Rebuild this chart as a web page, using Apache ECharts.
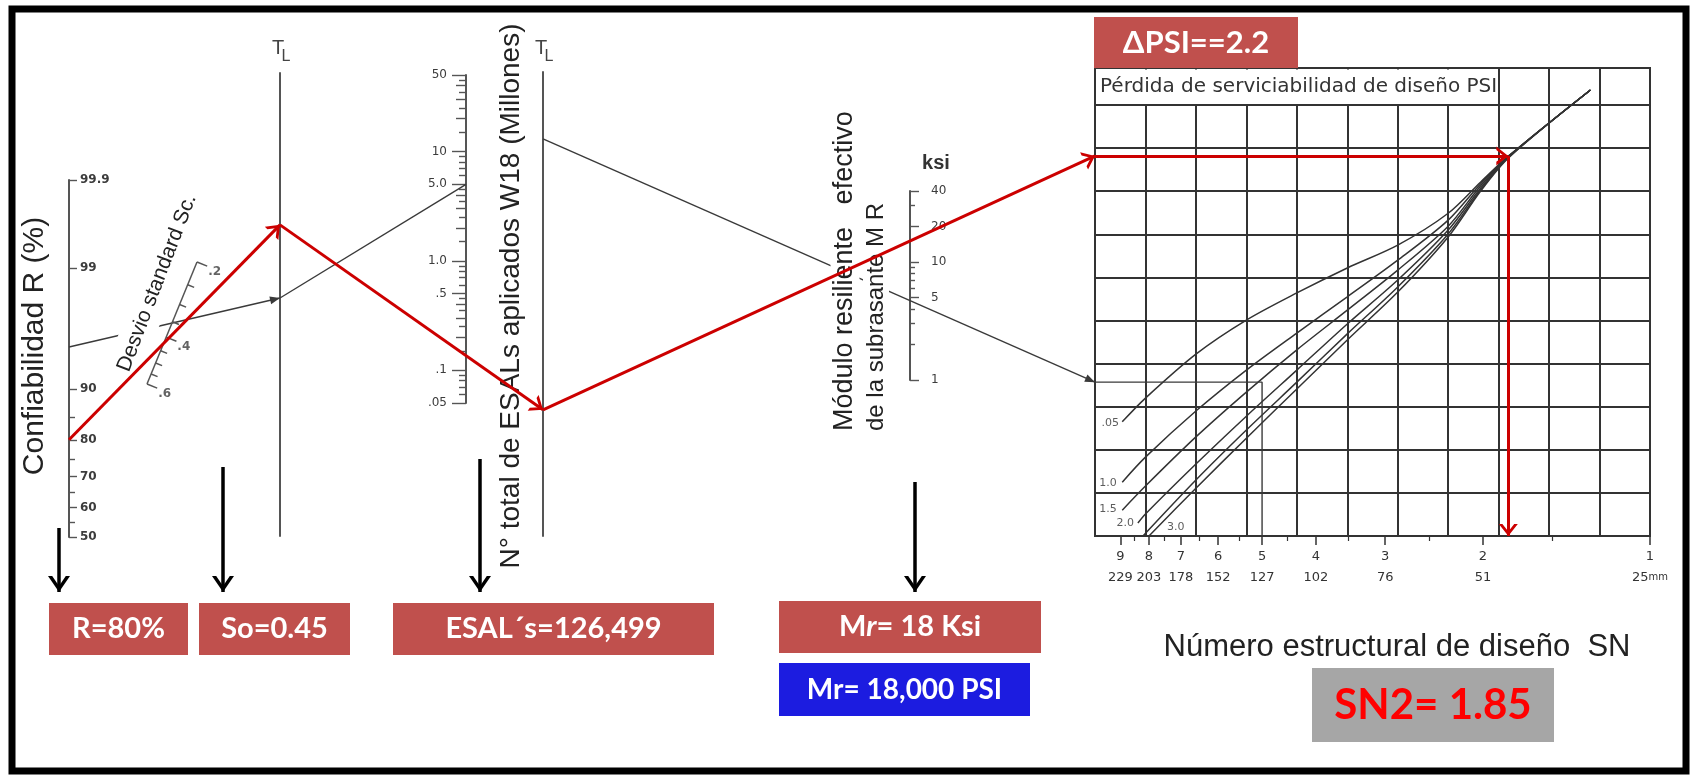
<!DOCTYPE html>
<html>
<head>
<meta charset="utf-8">
<script src="https://cdn.jsdelivr.net/npm/echarts@6/dist/echarts.min.js"></script>
<style>
html,body{margin:0;padding:0;background:#ffffff;}
#chart{width:1692px;height:778px;}
</style>
</head>
<body>
<div id="chart"></div>
<script>
const R_LABELS = [50, 60, 70, 80, 90, 99, 99.9];
const R_MINOR = [55, 65, 75, 85];
const SC_TICKS = [0.2, 0.25, 0.3, 0.35, 0.4, 0.45, 0.5, 0.55, 0.6];
const SC_LABELS = [0.2, 0.4, 0.6];
const SC_LABEL_TEXT = ['.2', '.4', '.6'];
const ESAL_LABELS = [0.05, 0.1, 0.5, 1, 5, 10, 50];
const ESAL_LABEL_TEXT = ['.05', '.1', '.5', '1.0', '5.0', '10', '50'];
const ESAL_MID = [0.2, 0.3, 0.4, 2, 3, 4, 20, 30, 40];
const ESAL_MINOR = [0.06, 0.07, 0.08, 0.09, 0.15, 0.25, 0.35, 0.45, 0.6, 0.7, 0.8, 0.9,
                    1.5, 2.5, 3.5, 4.5, 6, 7, 8, 9, 15, 25, 35, 45];
const KSI_LABELS = [1, 5, 10, 20, 40];
const KSI_MINOR = [2, 3, 4, 6, 7, 8, 9, 30];
const SN_TICKS = [1, 2, 3, 4, 5, 6, 7, 8, 9];
const SN_HALF = [1.5, 2.5, 3.5, 4.5, 5.5, 6.5, 7.5, 8.5];
const MM_LABELS = ['25', '51', '76', '102', '127', '152', '178', '203', '229'];

// Serviceability-loss curves, points as [grid column, grid row]
const PSI_05 = [[0.54,2.65],[1,3.2],[2,4.22],[3,5.01],[4,5.64],[5,6.22],[6,6.75],[7,7.49],[7.64,8.21],[8.2,8.82],[9.82,10.35]];
const PSI_10 = [[0.54,1.25],[1,1.83],[2,2.9],[3,3.85],[4,4.71],[5,5.55],[6,6.4],[7,7.33],[7.64,8.17],[8.2,8.82],[9.82,10.35]];
const PSI_15 = [[0.54,0.6],[1,1.16],[2,2.3],[3,3.34],[4,4.32],[5,5.24],[6,6.17],[7,7.19],[7.64,8.12],[8.2,8.81],[9.82,10.35]];
const PSI_20 = [[0.85,0.3],[1,0.51],[2,1.67],[3,2.78],[4,3.85],[5,4.92],[6,5.94],[7,7.1],[7.64,8.07],[8.2,8.8],[9.82,10.35]];
const PSI_25 = [[0.95,0],[2,1.3],[3,2.46],[4,3.57],[5,4.69],[6,5.78],[7,7.01],[7.64,8.03],[8.2,8.79],[9.82,10.35]];
const PSI_30 = [[1.07,0],[2,1.11],[3,2.27],[4,3.41],[5,4.55],[6,5.66],[7,6.94],[7.64,8.0],[8.2,8.78],[9.82,10.35]];
const PSI_NAMES = ['0.5', '1.0', '1.5', '2.0', '2.5', '3.0'];
const PSI_CURVE_LABELS = ['.05', '1.0', '1.5', '2.0', '3.0'];
const PSI_CURVE_LABEL_POS = [[0.3, 2.62], [0.26, 1.23], [0.26, 0.62], [0.6, 0.3], [1.6, 0.2]];
const PSI_COLS = 11;
const PSI_ROW_MAX = 10.86;

// Design inputs (boxes) and the two traced paths
const DESIGN = {R: 80, So: 0.45, W18: 126499, MR: 18, dPSI: 2.2, SN: 1.85};
const RED_PATH = {R: 80, tl1: 0.672, tl2: 0.272, row: 8.82, sn: 1.8};
const EXAMPLE_PATH = {R: 95, tl1: 0.514, w18: 5.0, tl2: 0.856, row: 3.57, sn: 5};

// ================= LAYOUT =================
const LAY = {
  R:    {x: 69,  top: 180, bottom: 537},
  TL1:  {x: 280, top: 73,  bottom: 536},
  ESAL: {x: 466, top: 75,  bottom: 403},
  TL2:  {x: 543, top: 72,  bottom: 536},
  KSI:  {x: 910, top: 191, bottom: 380},
  SC:   {a: [197, 262], b: [147, 384], c: 0.465},
  PSI:  {left: 1095, top: 68, width: 555, height: 468},
  DOWN: [[59, 528], [223, 467], [480, 459], [915, 482]],
  DOWN_TIP: 592
};

// ================= helpers =================
const log10 = Math.log10;
function normInv(p) {
  const a=[-3.969683028665376e+01,2.209460984245205e+02,-2.759285104469687e+02,1.383577518672690e+02,-3.066479806614716e+01,2.506628277459239e+00];
  const b=[-5.447609879822406e+01,1.615858368580409e+02,-1.556989798598866e+02,6.680131188771972e+01,-1.328068155288572e+01];
  const c=[-7.784894002430293e-03,-3.223964580411365e-01,-2.400758277161838e+00,-2.549732539343734e+00,4.374664141464968e+00,2.938163982698783e+00];
  const d=[7.784695709041462e-03,3.224671290700398e-01,2.445134137142996e+00,3.754408661907416e+00];
  const pl=0.02425, ph=1-pl; let q, r;
  if (p < pl) { q=Math.sqrt(-2*Math.log(p)); return (((((c[0]*q+c[1])*q+c[2])*q+c[3])*q+c[4])*q+c[5])/((((d[0]*q+d[1])*q+d[2])*q+d[3])*q+1); }
  if (p <= ph) { q=p-0.5; r=q*q; return (((((a[0]*r+a[1])*r+a[2])*r+a[3])*r+a[4])*r+a[5])*q/(((((b[0]*r+b[1])*r+b[2])*r+b[3])*r+b[4])*r+1); }
  q=Math.sqrt(-2*Math.log(1-p)); return -(((((c[0]*q+c[1])*q+c[2])*q+c[3])*q+c[4])*q+c[5])/((((d[0]*q+d[1])*q+d[2])*q+d[3])*q+1);
}
const zOf = R => normInv(R / 100);
function nearestIdx(arr, v) { let bi = 0, bd = Infinity; for (let i = 0; i < arr.length; i++) { const dd = Math.abs(arr[i] - v); if (dd < bd) { bd = dd; bi = i; } } return bi; }
function chevron(w, L, a) {
  const h = w / 2, b = L * a / h;
  return 'path://M-20,-20L-19.99,-20L-20,-19.99Z M20,20L19.99,20L20,19.99Z M' + (-h) + ',' + L + 'L0,0L' + h + ',' + L +
         'L' + (h - a) + ',' + L + 'L0,' + b + 'L' + (-(h - a)) + ',' + L + 'Z';
}
const RED_HEAD = chevron(19, 12, 3.6);
const BLACK_HEAD = chevron(22, 16, 4.2);
const SMALL_HEAD = 'path://M-20,-20L-19.99,-20L-20,-19.99Z M20,20L19.99,20L20,19.99Z M-4,10L0,0L4,10Z';

const RED = '#cc0000';
const INK = '#3a3a3a';

function segs(name, pairs, color, width, head, z, xi, yi) {
  return {
    type: 'lines', name: name, coordinateSystem: 'cartesian2d',
    xAxisIndex: xi || 0, yAxisIndex: yi || 0, polyline: false, silent: true, z: z,
    symbol: ['none', head || 'none'], symbolSize: 40,
    lineStyle: {color: color, width: width, opacity: 1, curveness: 0},
    data: pairs.map(c => ({coords: c}))
  };
}

const R_Z = R_LABELS.map(zOf);
const ESAL_L = ESAL_LABELS.map(log10);
const KSI_L = KSI_LABELS.map(log10);
const SN_L = SN_TICKS.map(log10);

const SCALE_LABEL = {fontFamily: 'DejaVu Sans, sans-serif', fontSize: 12, color: '#3c3c3c'};
const SCALE_LINE = {color: '#555', width: 2};
const TICK = {color: '#555', width: 1.4};
const NOAX = {axisTick: {show: false}, axisLabel: {show: false}, splitLine: {show: false}};

// ================= grids & axes =================
const grids = [
  {left: 0, top: 0, width: 1692, height: 778},
  {left: LAY.R.x, top: LAY.R.top, width: 1, height: LAY.R.bottom - LAY.R.top},
  {left: LAY.TL1.x, top: LAY.TL1.top, width: 1, height: LAY.TL1.bottom - LAY.TL1.top},
  {left: LAY.ESAL.x, top: LAY.ESAL.top, width: 1, height: LAY.ESAL.bottom - LAY.ESAL.top},
  {left: LAY.TL2.x, top: LAY.TL2.top, width: 1, height: LAY.TL2.bottom - LAY.TL2.top},
  {left: LAY.KSI.x, top: LAY.KSI.top, width: 1, height: LAY.KSI.bottom - LAY.KSI.top},
  {left: LAY.PSI.left, top: LAY.PSI.top, width: LAY.PSI.width, height: LAY.PSI.height,
   show: true, borderColor: '#333', borderWidth: 2, backgroundColor: 'transparent'}
];

const xAxes = [
  {gridIndex: 0, type: 'value', min: 0, max: 1692, show: false},
  {gridIndex: 1, type: 'value', min: 0, max: 1, show: false},
  {gridIndex: 2, type: 'value', min: 0, max: 1, show: false},
  {gridIndex: 3, type: 'value', min: 0, max: 1, show: false},
  {gridIndex: 4, type: 'value', min: 0, max: 1, show: false},
  {gridIndex: 5, type: 'value', min: 0, max: 1, show: false},
  // 6: structural number (log10 space, reversed)
  {gridIndex: 6, type: 'value', min: 0, max: 1, inverse: true, position: 'bottom',
   axisLine: {show: false, onZero: false},
   axisTick: {show: true, length: 9, customValues: SN_L, lineStyle: {color: '#333', width: 1.5}},
   axisLabel: {show: true, margin: 14, customValues: SN_L,
     formatter: v => String(SN_TICKS[nearestIdx(SN_L, v)]),
     fontFamily: 'DejaVu Sans, sans-serif', fontSize: 13, color: '#333'},
   splitLine: {show: false}},
  // 7: mm equivalents
  {gridIndex: 6, type: 'value', min: 0, max: 1, inverse: true, position: 'bottom',
   axisLine: {show: false, onZero: false}, axisTick: {show: false},
   axisLabel: {show: true, margin: 35, customValues: SN_L,
     formatter: v => { const i = nearestIdx(SN_L, v); return i === 0 ? '{n|' + MM_LABELS[0] + '}{u|mm}' : '{n|' + MM_LABELS[i] + '}'; },
     rich: {n: {fontFamily: 'DejaVu Sans, sans-serif', fontSize: 13, color: '#333'},
            u: {fontFamily: 'DejaVu Sans, sans-serif', fontSize: 10, color: '#333'}}},
   splitLine: {show: false}},
  // 8: half ticks
  {gridIndex: 6, type: 'value', min: 0, max: 1, inverse: true, position: 'bottom',
   axisLine: {show: false, onZero: false},
   axisTick: {show: true, length: 5, customValues: SN_HALF.map(log10), lineStyle: {color: '#333', width: 1.2}},
   axisLabel: {show: false}, splitLine: {show: false}},
  // 9: grid columns
  {gridIndex: 6, type: 'value', min: 0, max: PSI_COLS, interval: 1, position: 'bottom',
   axisLine: {show: false, onZero: false}, axisTick: {show: false}, axisLabel: {show: false},
   splitLine: {show: true, lineStyle: {color: '#333', width: 2}}}
];

const yAxes = [
  {gridIndex: 0, type: 'value', min: 0, max: 778, inverse: true, show: false},
  // 1,2: reliability R (normal-probability scale)
  {gridIndex: 1, type: 'value', min: 0, max: zOf(99.9), position: 'left',
   axisLine: {show: true, onZero: false, lineStyle: SCALE_LINE},
   axisTick: {show: true, inside: true, length: 8, customValues: R_Z, lineStyle: TICK},
   axisLabel: Object.assign({show: true, inside: true, margin: 11, customValues: R_Z, fontWeight: 'bold',
     formatter: v => String(R_LABELS[nearestIdx(R_Z, v)])}, SCALE_LABEL),
   splitLine: {show: false}},
  {gridIndex: 1, type: 'value', min: 0, max: zOf(99.9), position: 'left',
   axisLine: {show: false, onZero: false},
   axisTick: {show: true, inside: true, length: 6, customValues: R_MINOR.map(zOf), lineStyle: TICK},
   axisLabel: {show: false}, splitLine: {show: false}},
  // 3: turning line 1
  Object.assign({gridIndex: 2, type: 'value', min: 0, max: 1, position: 'left',
   axisLine: {show: true, onZero: false, lineStyle: SCALE_LINE}}, NOAX),
  // 4,5,6: ESAL (log10 space)
  {gridIndex: 3, type: 'value', min: log10(0.05), max: log10(50), position: 'left',
   axisLine: {show: true, onZero: false, lineStyle: SCALE_LINE},
   axisTick: {show: true, length: 14, customValues: ESAL_L, lineStyle: TICK},
   axisLabel: Object.assign({show: true, margin: 19, customValues: ESAL_L,
     formatter: v => ESAL_LABEL_TEXT[nearestIdx(ESAL_L, v)]}, SCALE_LABEL),
   splitLine: {show: false}},
  {gridIndex: 3, type: 'value', min: log10(0.05), max: log10(50), position: 'left',
   axisLine: {show: false, onZero: false},
   axisTick: {show: true, length: 10, customValues: ESAL_MID.map(log10), lineStyle: TICK},
   axisLabel: {show: false}, splitLine: {show: false}},
  {gridIndex: 3, type: 'value', min: log10(0.05), max: log10(50), position: 'left',
   axisLine: {show: false, onZero: false},
   axisTick: {show: true, length: 7, customValues: ESAL_MINOR.map(log10), lineStyle: TICK},
   axisLabel: {show: false}, splitLine: {show: false}},
  // 7: turning line 2
  Object.assign({gridIndex: 4, type: 'value', min: 0, max: 1, position: 'left',
   axisLine: {show: true, onZero: false, lineStyle: SCALE_LINE}}, NOAX),
  // 8,9: resilient modulus ksi (log10 space)
  {gridIndex: 5, type: 'value', min: 0, max: log10(40), position: 'left',
   axisLine: {show: true, onZero: false, lineStyle: SCALE_LINE},
   axisTick: {show: true, inside: true, length: 9, customValues: KSI_L, lineStyle: TICK},
   axisLabel: Object.assign({show: true, inside: true, margin: 21, customValues: KSI_L,
     formatter: v => String(KSI_LABELS[nearestIdx(KSI_L, v)])}, SCALE_LABEL),
   splitLine: {show: false}},
  {gridIndex: 5, type: 'value', min: 0, max: log10(40), position: 'left',
   axisLine: {show: false, onZero: false},
   axisTick: {show: true, inside: true, length: 5, customValues: KSI_MINOR.map(log10), lineStyle: TICK},
   axisLabel: {show: false}, splitLine: {show: false}},
  // 10: PSI chart rows
  {gridIndex: 6, type: 'value', min: 0, max: PSI_ROW_MAX, interval: 1, position: 'left',
   axisLine: {show: false, onZero: false}, axisTick: {show: false}, axisLabel: {show: false},
   splitLine: {show: true, lineStyle: {color: '#333', width: 2}}}
];

// ================= static series =================
const series = [];
[PSI_05, PSI_10, PSI_15, PSI_20, PSI_25, PSI_30].forEach((d, i) => {
  series.push({type: 'line', name: 'ΔPSI ' + PSI_NAMES[i], xAxisIndex: 9, yAxisIndex: 10, data: d,
    smooth: 0.3, symbol: 'none', showSymbol: false, silent: true, z: 2,
    lineStyle: {color: '#333', width: 1.5}});
});
series.push({type: 'scatter', name: 'curve labels', xAxisIndex: 9, yAxisIndex: 10, symbolSize: 0, silent: true, z: 3,
  data: PSI_CURVE_LABELS.map((t, i) => ({name: t, value: PSI_CURVE_LABEL_POS[i]})),
  label: {show: true, position: 'inside', formatter: '{b}', fontFamily: 'DejaVu Sans, sans-serif', fontSize: 11, color: '#333'}});

// standard deviation scale (diagonal, non-linear)
function scFrac(v) { const c = LAY.SC.c; return ((v - 0.2) / (v + c)) / ((0.6 - 0.2) / (0.6 + c)); }
function scPoint(v) { const t = scFrac(v), A = LAY.SC.a, B = LAY.SC.b; return [A[0] + (B[0] - A[0]) * t, A[1] + (B[1] - A[1]) * t]; }
const scDx = LAY.SC.b[0] - LAY.SC.a[0], scDy = LAY.SC.b[1] - LAY.SC.a[1], scLen = Math.hypot(scDx, scDy);
const scN = [scDy / scLen, -scDx / scLen];
const scPairs = [[scPoint(0.2), scPoint(0.6)]];
SC_TICKS.forEach(v => { const p = scPoint(v); const L = SC_LABELS.indexOf(v) >= 0 ? 11 : 7; scPairs.push([p, [p[0] + scN[0] * L, p[1] + scN[1] * L]]); });
series.push(segs('Sc scale', scPairs, '#555', 1.5, null, 5));
series.push({type: 'scatter', name: 'Sc labels', xAxisIndex: 0, yAxisIndex: 0, symbolSize: 0, silent: true, z: 5,
  data: SC_LABELS.map((v, i) => { const p = scPoint(v); return {name: SC_LABEL_TEXT[i], value: [p[0] + scN[0] * 19, p[1] + scN[1] * 19 + 3]}; }),
  label: {show: true, position: 'inside', formatter: '{b}', fontFamily: 'DejaVu Sans, sans-serif', fontSize: 12, fontWeight: 'bold', color: '#3c3c3c'}});

// original AASHTO example inside the PSI chart
series.push({type: 'line', name: 'example SN', xAxisIndex: 6, yAxisIndex: 10, symbol: 'none', silent: true, z: 3,
  data: [[1, EXAMPLE_PATH.row], [log10(EXAMPLE_PATH.sn), EXAMPLE_PATH.row], [log10(EXAMPLE_PATH.sn), 0]],
  lineStyle: {color: INK, width: 1.4}});

// red read-off in PSI chart
series.push(segs('red horizontal', [[[1, RED_PATH.row], [log10(RED_PATH.sn), RED_PATH.row]]], RED, 3, RED_HEAD, 6, 6, 10));
series.push(segs('red vertical', [[[log10(RED_PATH.sn), RED_PATH.row], [log10(RED_PATH.sn), 0]]], RED, 3, RED_HEAD, 6, 6, 10));

// black pointer arrows under the scales
series.push(segs('pointers', LAY.DOWN.map(p => [p, [p[0], LAY.DOWN_TIP]]), '#000', 3.5, BLACK_HEAD, 6));

// ================= graphics (texts, boxes, frame) =================
const TXT = 'Liberation Sans, Arial, sans-serif';
const boxFont = 'Lato, sans-serif';
function boxEl(x, y, w, h, fill, text, color, size, rich) {
  const st = {text: text, fill: color, font: 'bold ' + size + 'px ' + boxFont};
  if (rich) st.rich = rich;
  return {type: 'rect', shape: {x: x, y: y, width: w, height: h}, style: {fill: fill}, z: 10,
    textContent: {style: st, z: 11}, textConfig: {position: 'inside'}};
}
function tl(x) {
  return [
    {type: 'text', x: x - 2, y: 48, z: 4, style: {text: 'T', font: '20px ' + TXT, fill: '#444', align: 'center', verticalAlign: 'middle'}},
    {type: 'text', x: x + 6, y: 57, z: 4, style: {text: 'L', font: '16px ' + TXT, fill: '#444', align: 'center', verticalAlign: 'middle'}}
  ];
}
const graphics = [
  {type: 'rect', shape: {x: 12, y: 9, width: 1674, height: 762}, style: {fill: 'none', stroke: '#000', lineWidth: 7}, z: 20},
  {type: 'text', x: 35, y: 346, rotation: Math.PI / 2, z: 4,
   style: {text: 'Confiabilidad R (%)', font: '30px ' + TXT, fill: '#222', align: 'center', verticalAlign: 'middle'}},
  {type: 'text', x: 157, y: 283, rotation: 69 * Math.PI / 180, z: 4,
   style: {text: 'Desvio standard Sc.', font: '21px ' + TXT, fill: '#222', align: 'center', verticalAlign: 'middle',
           backgroundColor: '#fff', padding: [7, 3]}},
  ...tl(LAY.TL1.x), ...tl(LAY.TL2.x),
  {type: 'text', x: 511, y: 296, rotation: Math.PI / 2, z: 4,
   style: {text: 'N° total de ESALs aplicados W18 (Millones)', font: '28px ' + TXT, fill: '#222', align: 'center', verticalAlign: 'middle'}},
  {type: 'text', x: 845, y: 433, rotation: Math.PI / 2, z: 4,
   style: {text: 'Módulo resiliente   efectivo', font: '27px ' + TXT, fill: '#222',
           align: 'left', verticalAlign: 'middle', backgroundColor: '#fff', padding: [1, 2]}},
  {type: 'text', x: 876, y: 433, rotation: Math.PI / 2, z: 4,
   style: {text: 'de la subrasante M R', font: '24px ' + TXT, fill: '#222',
           align: 'left', verticalAlign: 'middle', backgroundColor: '#fff', padding: [1, 2]}},
  {type: 'text', x: 936, y: 163, z: 4, style: {text: 'ksi', font: 'bold 20px ' + TXT, fill: '#333', align: 'center', verticalAlign: 'middle'}},
  {type: 'rect', shape: {x: 1097, y: 69.5, width: 400, height: 34.5}, style: {fill: '#fff'}, z: 1},
  {type: 'text', x: 1100, y: 87, z: 2, style: {text: 'Pérdida de serviciabilidad de diseño PSI', font: '20px DejaVu Sans, sans-serif', fill: '#333', align: 'left', verticalAlign: 'middle'}},
  {type: 'text', x: 1397, y: 647, z: 4, style: {text: 'Número estructural de diseño  SN', font: '31px ' + TXT, fill: '#222', align: 'center', verticalAlign: 'middle'}},
  boxEl(49, 603, 139, 52, '#c0504d', 'R=' + DESIGN.R + '%', '#fff', 29),
  boxEl(199, 603, 151, 52, '#c0504d', 'So=' + DESIGN.So.toFixed(2), '#fff', 29),
  boxEl(393, 603, 321, 52, '#c0504d', 'ESAL´s=' + DESIGN.W18.toLocaleString('en-US'), '#fff', 29),
  boxEl(779, 601, 262, 52, '#c0504d', '{a|M}{b|r}{a|= ' + DESIGN.MR + ' Ksi}', '#fff', 29,
        {a: {font: 'bold 29px ' + boxFont, fill: '#fff'}, b: {font: 'italic bold 29px ' + boxFont, fill: '#fff'}}),
  boxEl(779, 663, 251, 53, '#1c1ce0', 'Mr= ' + (DESIGN.MR * 1000).toLocaleString('en-US') + ' PSI', '#fff', 28),
  boxEl(1312, 668, 242, 74, '#a6a6a6', 'SN2= ' + DESIGN.SN.toFixed(2), '#ff0000', 42),
  boxEl(1094, 17, 204, 51, '#c0504d', 'ΔPSI==' + DESIGN.dPSI, '#fff', 31)
];

const option = {
  animation: false,
  backgroundColor: '#ffffff',
  textStyle: {fontFamily: TXT},
  grid: grids,
  xAxis: xAxes,
  yAxis: yAxes,
  graphic: {elements: graphics},
  series: series
};

const chart = echarts.init(document.getElementById('chart'), null, {renderer: 'canvas', width: 1692, height: 778});
chart.setOption(option);

// ================= traced paths through the library's scales =================
const cp = (finder, v) => chart.convertToPixel(finder, v);
const yR = v => cp({yAxisIndex: 1}, zOf(v));
const yTL1 = f => cp({yAxisIndex: 3}, f);
const yESAL = v => cp({yAxisIndex: 4}, log10(v));
const yTL2 = f => cp({yAxisIndex: 7}, f);
const psiEdge = row => cp({xAxisIndex: 6, yAxisIndex: 10}, [1, row]);

const exA = [LAY.R.x, yR(EXAMPLE_PATH.R)];
const exB = [LAY.TL1.x, yTL1(EXAMPLE_PATH.tl1)];
const exC = [LAY.ESAL.x, yESAL(EXAMPLE_PATH.w18)];
const exD = [LAY.TL2.x, yTL2(EXAMPLE_PATH.tl2)];
const exE = psiEdge(EXAMPLE_PATH.row);
option.series.push(segs('example to TL1', [[exA, exB]], INK, 1.4, SMALL_HEAD, 3));
option.series.push(segs('example TL1-W18', [[exB, exC]], INK, 1.4, null, 3));
option.series.push(segs('example TL2-chart', [[exD, exE]], INK, 1.4, SMALL_HEAD, 3));

const rA = [LAY.R.x, yR(RED_PATH.R)];
const rB = [LAY.TL1.x, yTL1(RED_PATH.tl1)];
const rC = [LAY.TL2.x, yTL2(RED_PATH.tl2)];
const rD = psiEdge(RED_PATH.row);
option.series.push(segs('design R-TL1', [[rA, rB]], RED, 3, RED_HEAD, 6));
option.series.push(segs('design TL1-TL2', [[rB, rC]], RED, 3, RED_HEAD, 6));
option.series.push(segs('design TL2-chart', [[rC, rD]], RED, 3, RED_HEAD, 6));

chart.setOption(option, true);
</script>
</body>
</html>
